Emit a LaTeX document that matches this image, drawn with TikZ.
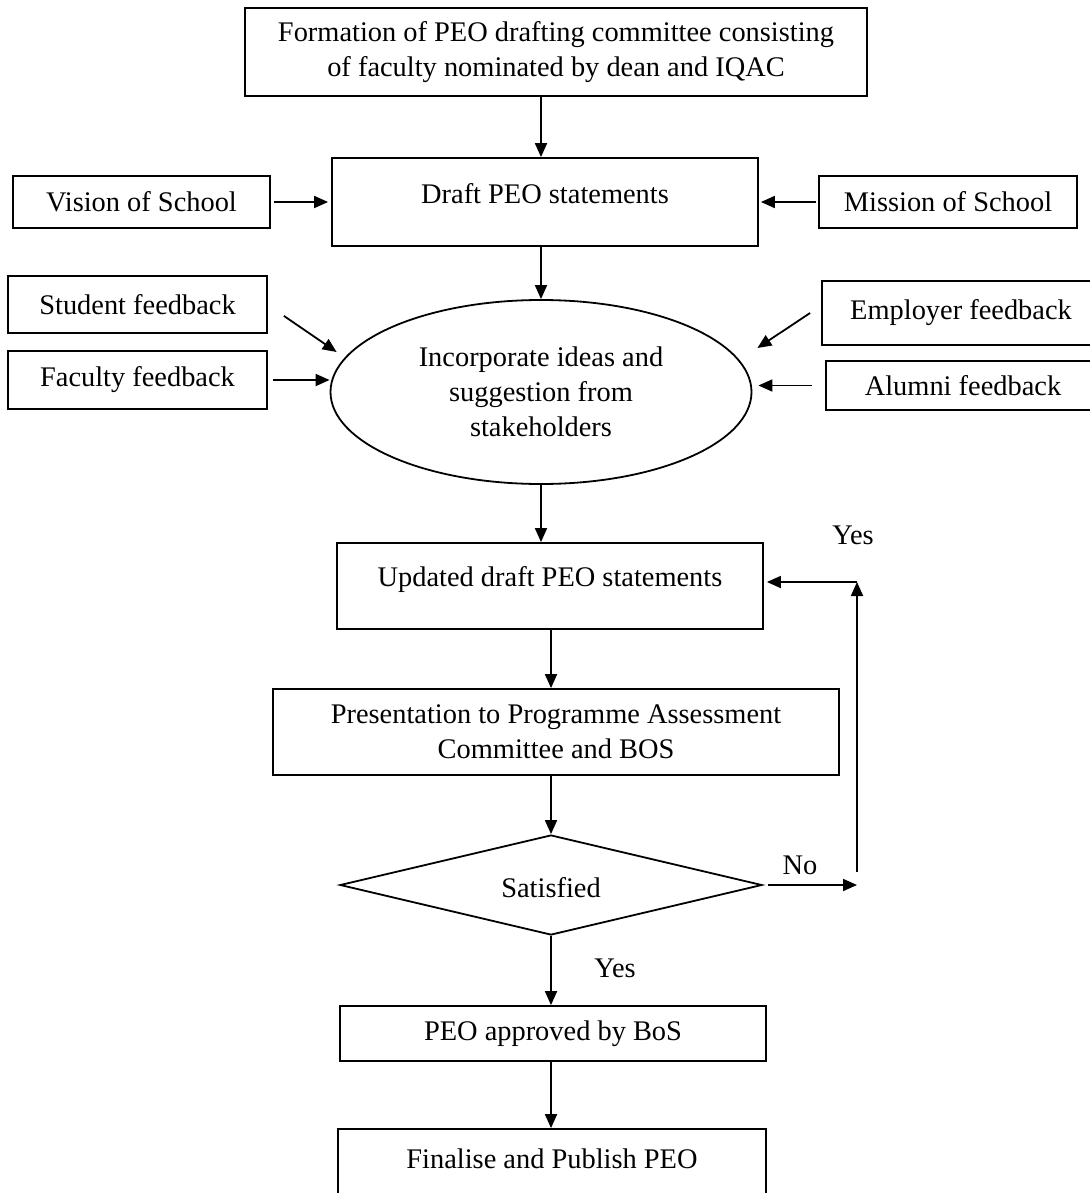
\documentclass[tikz,border=0pt]{standalone}
\usepackage{fontspec}
\setmainfont{Liberation Serif}
\usetikzlibrary{arrows.meta,shapes.geometric,calc}
\begin{document}
\begin{tikzpicture}[x=0.5pt,y=-0.5pt,
  every node/.style={font=\fontsize{14.2}{17.5}\selectfont, align=center},
  box/.style={draw, line width=0.9pt, inner sep=0pt},
  arr/.style={line width=0.9pt, -{Triangle[length=7pt,width=6pt]}},
  lbl/.style={inner sep=0pt}]
\useasboundingbox (0,0) rectangle (1090,1193);
\clip (0,0) rectangle (1090,1193);

% main column
\node[box, minimum width=311pt, minimum height=44pt] (top) at (556,52)
  {Formation of PEO drafting committee consisting\\of faculty nominated by dean and IQAC};
\node[box, minimum width=213pt, minimum height=44pt,
  label={[lbl,yshift=4pt]center:Draft PEO statements}] (draft) at (545,202) {};
\node[draw, ellipse, line width=0.9pt, inner sep=0pt, minimum width=210.5pt, minimum height=92pt] (ell) at (541,392)
  {Incorporate ideas and\\suggestion from\\stakeholders};
\node[box, minimum width=213pt, minimum height=43pt,
  label={[lbl,yshift=3pt]center:Updated draft PEO statements}] (updated) at (550,586) {};
\node[box, minimum width=283pt, minimum height=43pt] (present) at (556,732)
  {Presentation to Programme Assessment\\Committee and BOS};
\node[draw, diamond, line width=0.9pt, inner sep=0pt, minimum width=211pt, minimum height=50pt,
  label={[lbl,yshift=-1.5pt]center:Satisfied}] (dia) at (551,885) {};
\node[box, minimum width=213pt, minimum height=27.5pt] (approved) at (553,1033.5) {PEO approved by BoS};
\node[box, minimum width=214pt, minimum height=40.5pt,
  label={[lbl,yshift=5.5pt]center:Finalise and Publish PEO}] (final) at (552,1169.5) {};

% side inputs
\node[box, minimum width=128.5pt, minimum height=26pt] (vision) at (141.5,202) {Vision of School};
\node[box, minimum width=129pt, minimum height=26pt] (mission) at (948,202) {Mission of School};
\node[box, minimum width=129.5pt, minimum height=28.5pt] (student) at (137.5,304.5) {Student feedback};
\node[box, minimum width=129.5pt, minimum height=29pt] (faculty) at (137.5,380) {Faculty feedback};
\node[box, minimum width=139pt, minimum height=32pt] (employer) at (961,313) {Employer feedback};
\node[box, minimum width=137pt, minimum height=24.5pt] (alumni) at (963,385.5) {Alumni feedback};

% flow arrows
\draw[arr] (top.south -| ell) -- (draft.north -| ell);
\draw[arr] (draft.south -| ell) -- (ell.north);
\draw[arr] (ell.south) -- (updated.north -| ell);
\draw[arr] (updated.south -| dia) -- (present.north -| dia);
\draw[arr] (present.south -| dia) -- (dia.north);
\draw[arr] (dia.south) -- (approved.north -| dia);
\draw[arr] (approved.south -| dia) -- (final.north -| dia);

% inputs into drafting and consultation
\draw[arr] ([shift={(3,0)}]vision.east) -- ([shift={(-3,0)}]draft.west);
\draw[arr] ([shift={(-2,0)}]mission.west) -- ([shift={(2,0)}]draft.east);
\draw[arr] ([shift={(16,-18)}]student.south east) -- ([shift={(7,-40)}]ell.west);
\draw[arr] ([shift={(5,0)}]faculty.east) -- (faculty.east -| ell.west);
\draw[arr] ([shift={(-11,0)}]employer.west) -- ([shift={(5,-44)}]ell.east);
\draw[arr] ([shift={(-13,0)}]alumni.west) -- ([shift={(6,0)}]alumni.west -| ell.east);

% decision loop
\coordinate (noEnd) at (857,885);
\coordinate (loopBot) at (857,872);
\coordinate (loopTop) at (857,582);
\draw[arr] ([shift={(5,0)}]dia.east) -- (noEnd);
\draw[arr] (loopBot) -- (loopTop);
\draw[arr] (loopTop) -- ([shift={(3,0)}]loopTop -| updated.east);

\node[lbl] (yesLoop) at (853,535) {Yes};
\node[lbl] (noLbl) at (800,865) {No};
\node[lbl] (yesDown) at (615,968) {Yes};
\end{tikzpicture}
\end{document}
